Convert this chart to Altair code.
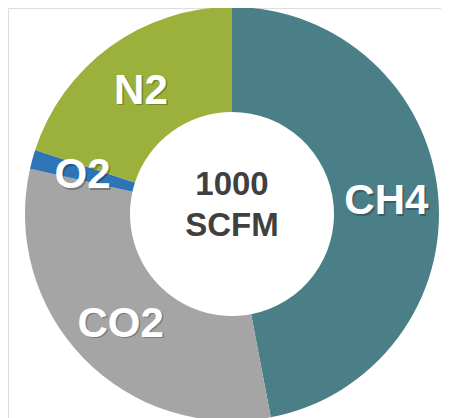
import altair as alt
import pandas as pd

categories = ["CH4", "CO2", "O2", "N2"]
values = [47.0, 31.5, 1.5, 20.0]
colors = ["#4A7F87", "#A5A5A5", "#2E75B6", "#9BB13B"]
center_lines = ["1000", "SCFM"]

df = pd.DataFrame({"gas": categories, "value": values, "order": list(range(len(categories)))})

CX, CY = 224, 206
FONT = "Liberation Sans, Arial, sans-serif"

base = alt.Chart(df).encode(
    theta=alt.Theta("value:Q", stack=True),
    order=alt.Order("order:Q"),
)

arcs = base.mark_arc(outerRadius=207, innerRadius=102).encode(
    color=alt.Color("gas:N", scale=alt.Scale(domain=categories, range=colors), legend=None),
    x=alt.value(CX), y=alt.value(CY),
)

shadow = base.mark_text(
    radius=155, font=FONT, fontSize=42, fontWeight="bold", color="#000000", opacity=0.25,
    align="center", baseline="middle", dx=1.5, dy=3.5,
).encode(text="gas:N", x=alt.value(CX), y=alt.value(CY))

labels = base.mark_text(
    radius=155, font=FONT, fontSize=42, fontWeight="bold", color="white",
    align="center", baseline="middle", dy=2,
).encode(text="gas:N", x=alt.value(CX), y=alt.value(CY))

cdf = pd.DataFrame({"t": center_lines, "k": [0, 1]})
center1 = alt.Chart(cdf[cdf.k == 0]).mark_text(
    font=FONT, fontSize=33, fontWeight="bold", color="#404040", align="center", baseline="middle"
).encode(text="t:N", x=alt.value(CX), y=alt.value(CY - 29))
center2 = alt.Chart(cdf[cdf.k == 1]).mark_text(
    font=FONT, fontSize=33, fontWeight="bold", color="#404040", align="center", baseline="middle"
).encode(text="t:N", x=alt.value(CX), y=alt.value(CY + 12))

chart = alt.layer(arcs, shadow, labels, center1, center2).properties(
    width=433, height=410, padding=0, autosize="none"
).configure_view(strokeWidth=0, stroke="transparent").configure(background="white")

chart.save("out.html", embed_options={"renderer": "svg", "actions": False})
